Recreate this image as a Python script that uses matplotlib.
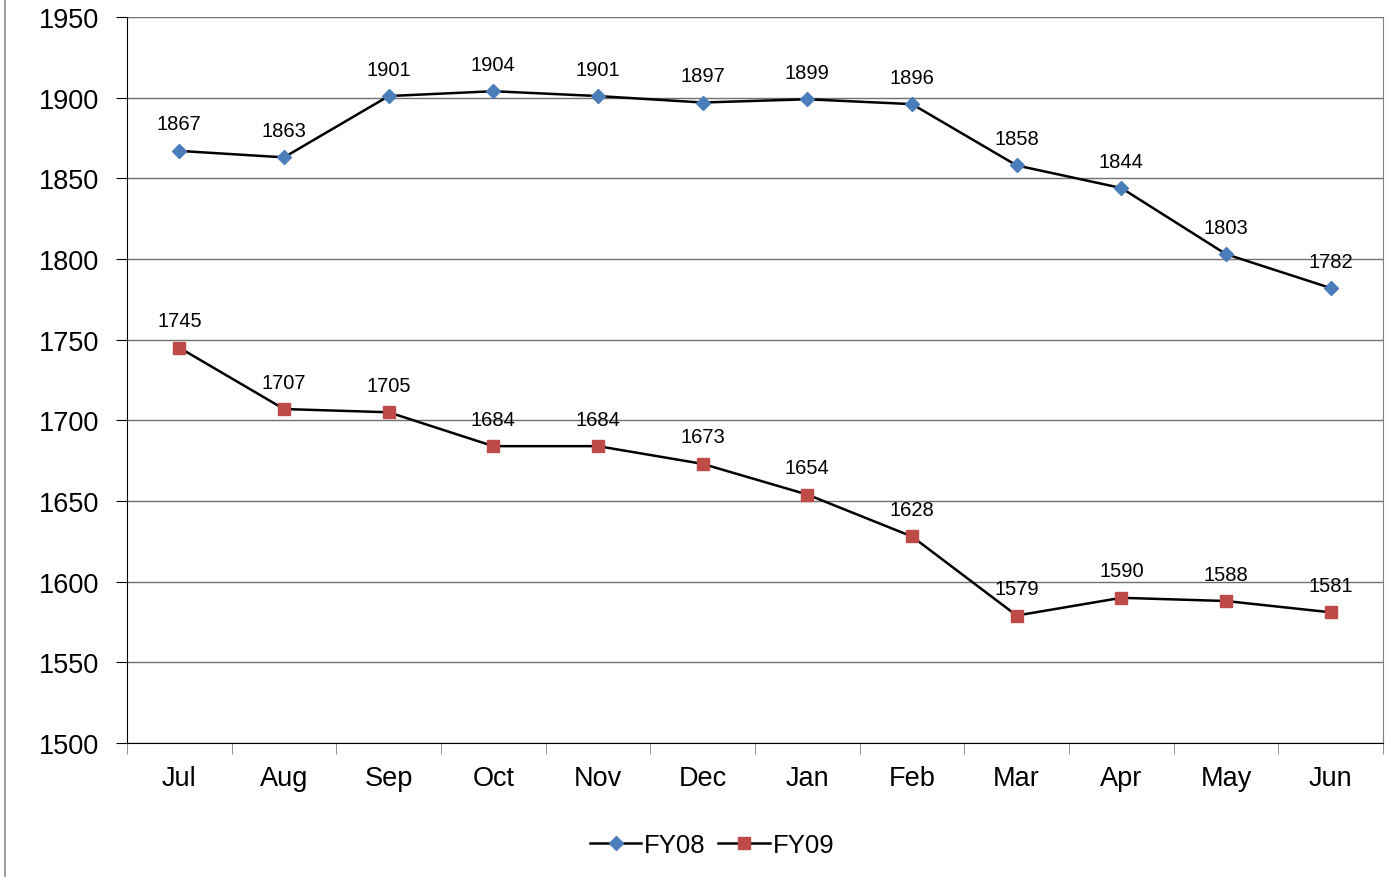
import matplotlib.pyplot as plt
import numpy as np
from matplotlib.lines import Line2D

months = ['Jul', 'Aug', 'Sep', 'Oct', 'Nov', 'Dec', 'Jan', 'Feb', 'Mar', 'Apr', 'May', 'Jun']
fy08 = [1867, 1863, 1901, 1904, 1901, 1897, 1899, 1896, 1858, 1844, 1803, 1782]
fy09 = [1745, 1707, 1705, 1684, 1684, 1673, 1654, 1628, 1579, 1590, 1588, 1581]

plt.rcParams['font.family'] = ['Liberation Sans', 'DejaVu Sans']

fig = plt.figure(figsize=(13.89, 8.78), dpi=100)
ax = fig.add_axes([127/1389, 1 - 744/878, (1383-127)/1389, (744-18)/878])

x = np.arange(len(months))
ax.plot(x, fy08, color='black', lw=1.8, marker='D', ms=7.5, mfc='#4a7ebb', mec='#4a7ebb', label='FY08', zorder=3)
ax.plot(x, fy09, color='black', lw=1.8, marker='s', ms=8.5, mfc='#be4b48', mec='#be4b48', label='FY09', zorder=3)

# value labels above each point
for xi, v in zip(x, fy08):
    ax.annotate(str(v), (xi, v), xytext=(0, 27), textcoords='offset pixels', ha='center', va='center', fontsize=14.5)
for xi, v in zip(x, fy09):
    ax.annotate(str(v), (xi, v), xytext=(0, 27), textcoords='offset pixels', ha='center', va='center', fontsize=14.5)

ax.set_xlim(-0.5, len(months) - 0.5)
ax.set_ylim(1500, 1950)
ax.set_yticks(np.arange(1500, 1951, 50))
ax.yaxis.grid(True, color='#707070', lw=1)
ax.set_axisbelow(True)
ax.tick_params(axis='y', labelsize=19.5, length=8, direction='out', pad=12)

ax.set_xticks(x)
ax.set_xticklabels(months)
ax.set_xticks(np.arange(-0.5, len(months)), minor=True)
ax.tick_params(axis='x', which='major', length=0, labelsize=19.5, pad=16)
ax.tick_params(axis='x', which='minor', length=8, color='#808080')

ax.spines['top'].set_visible(False)
ax.spines['right'].set_color('#808080')
ax.spines['left'].set_color('black')
ax.spines['bottom'].set_color('black')

fig.legend(loc='center', bbox_to_anchor=(712/1389, 1 - 846/878), ncol=2, frameon=False,
           fontsize=18.5, handlelength=2.0, handletextpad=0.1, columnspacing=0.5)

fig.add_artist(Line2D([5/1389, 5/1389], [0, 1], color='#a0a0a0', lw=1.5))

fig.savefig('out.png', dpi=100)
